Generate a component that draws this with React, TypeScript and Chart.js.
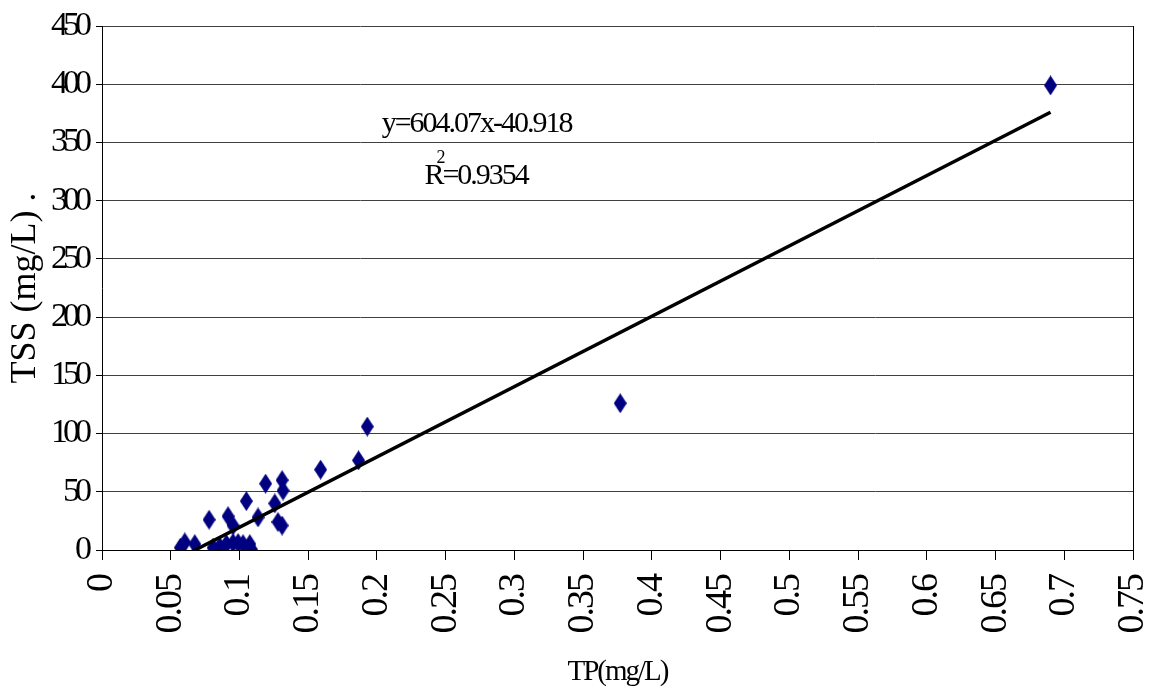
import React, { useEffect, useRef } from 'react';
import { Chart, registerables } from 'chart.js';

Chart.register(...registerables);

// ---- data ----
const tpValues = [0.057, 0.0602, 0.0675, 0.0779, 0.0808, 0.0857, 0.0905, 0.0917, 0.0953, 0.0953, 0.099, 0.1026, 0.105, 0.1075, 0.1087, 0.1135, 0.119, 0.1257, 0.128, 0.131, 0.131, 0.1317, 0.159, 0.1866, 0.193, 0.377, 0.69];
const tssValues = [2, 6.5, 5, 26, 2, 3, 5, 29, 21, 6, 6, 5, 42, 5, 0.5, 28, 57, 40, 24, 21, 60, 51, 69, 77, 106, 126, 399];

const trendSlope = 604.07;
const trendIntercept = -40.918;
const equationText = 'y=604.07x-40.918';
const r2Value = '0.9354';

const xMin = 0;
const xMax = 0.75;
const xStep = 0.05;
const yMin = 0;
const yMax = 450;
const yStep = 50;

const xTitle = 'TP(mg/L)';
const yTitle = 'TSS (mg/L) .';

// anchor of the equation text, in data units
const eqX = 0.2725;
const eqLine1Y = 359;
const eqLine2Y = 314.4;

const FONT = "'Liberation Serif', 'Times New Roman', serif";

function makeDiamond(): HTMLCanvasElement {
  const c = document.createElement('canvas');
  const w = 13;
  const h = 20;
  c.width = w;
  c.height = h;
  const g = c.getContext('2d')!;
  g.fillStyle = '#000080';
  g.beginPath();
  g.moveTo(w / 2, 0);
  g.lineTo(w, h / 2);
  g.lineTo(w / 2, h);
  g.lineTo(0, h / 2);
  g.closePath();
  g.fill();
  return c;
}

function patchSpacing(scale: any, method: string, spacing: string) {
  const key = '__patched_' + method;
  if (scale[key]) return;
  const orig = scale[method];
  scale[method] = function (...args: any[]) {
    const ctx = this.ctx;
    ctx.save();
    ctx.letterSpacing = spacing;
    orig.apply(this, args);
    ctx.restore();
  };
  scale[key] = true;
}

const spacingPlugin = {
  id: 'spacingPlugin',
  afterLayout(chart: any) {
    patchSpacing(chart.scales.y, 'drawLabels', '-5px');
    patchSpacing(chart.scales.x, 'drawLabels', '-2px');
    patchSpacing(chart.scales.x, 'drawTitle', '-2px');
  },
};

const equationPlugin = {
  id: 'equationPlugin',
  afterDatasetsDraw(chart: any) {
    const { ctx, scales } = chart;
    const x = scales.x;
    const y = scales.y;
    const cx = x.getPixelForValue(eqX);
    ctx.save();
    ctx.fillStyle = '#000';
    ctx.textBaseline = 'alphabetic';
    ctx.letterSpacing = '-2px';
    ctx.font = `30px ${FONT}`;
    ctx.textAlign = 'center';
    ctx.fillText(equationText, cx, y.getPixelForValue(eqLine1Y));

    const by = y.getPixelForValue(eqLine2Y);
    ctx.textAlign = 'left';
    const rest = '=' + r2Value;
    const wR = ctx.measureText('R').width;
    const wRest = ctx.measureText(rest).width;
    ctx.font = `18px ${FONT}`;
    const w2 = ctx.measureText('2').width;
    const total = wR - 6 + w2 + wRest;
    let sx = cx - total / 2;
    ctx.font = `30px ${FONT}`;
    ctx.fillText('R', sx, by);
    sx += wR - 6;
    ctx.font = `18px ${FONT}`;
    ctx.fillText('2', sx, by - 21);
    sx += w2 - 1;
    ctx.font = `30px ${FONT}`;
    ctx.fillText(rest, sx, by);
    ctx.restore();
  },
};

function formatTick(v: number): string {
  return String(Number(v.toFixed(2)));
}

export default function App() {
  const ref = useRef<HTMLCanvasElement | null>(null);

  useEffect(() => {
    if (!ref.current) return;
    const scatterData = tpValues.map((v, i) => ({ x: v, y: tssValues[i] }));
    const tMin = Math.min(...tpValues);
    const tMax = Math.max(...tpValues);
    const trendData = [tMin, tMax].map((v) => ({ x: v, y: trendSlope * v + trendIntercept }));
    const nXTicks = Math.round((xMax - xMin) / xStep);

    const chart = new Chart(ref.current, {
      type: 'scatter',
      data: {
        datasets: [
          {
            type: 'line',
            label: 'trend',
            data: trendData,
            borderColor: '#000',
            borderWidth: 3.5,
            pointRadius: 0,
            showLine: true,
            fill: false,
          },
          {
            label: 'TSS',
            data: scatterData,
            pointStyle: makeDiamond(),
            backgroundColor: '#000080',
            borderColor: '#000080',
          },
        ],
      },
      options: {
        animation: false,
        responsive: true,
        maintainAspectRatio: false,
        layout: { padding: { top: 24, right: 20, left: 0, bottom: 0 } },
        plugins: {
          legend: { display: false },
          tooltip: { enabled: false },
        },
        scales: {
          x: {
            type: 'linear',
            min: xMin,
            max: xMax,
            afterFit: (s: any) => {
              s.height = 143;
              s.paddingLeft = 0;
              s.paddingRight = 0;
            },
            ticks: {
              stepSize: xStep,
              autoSkip: false,
              minRotation: 90,
              maxRotation: 90,
              padding: 15,
              color: '#000',
              font: { family: FONT, size: 38, lineHeight: 1 },
              callback: (v: any) => formatTick(Number(v)),
            },
            grid: {
              drawOnChartArea: true,
              color: (c: any) => (c.index === nXTicks ? '#000' : 'rgba(0,0,0,0)'),
              tickColor: '#000',
              tickLength: 10,
              lineWidth: 1,
            },
            border: { display: true, color: '#000', width: 1 },
            title: {
              display: true,
              text: xTitle,
              color: '#000',
              font: { family: FONT, size: 29, lineHeight: 1.2 },
              padding: { top: 0, bottom: 3 },
            },
          },
          y: {
            type: 'linear',
            min: yMin,
            max: yMax,
            afterFit: (s: any) => {
              s.width = 102;
            },
            ticks: {
              stepSize: yStep,
              padding: 9,
              color: '#000',
              font: { family: FONT, size: 34, lineHeight: 1 },
              callback: (v: any) => formatTick(Number(v)),
            },
            grid: {
              color: '#404040',
              tickColor: '#000',
              tickLength: 6,
              lineWidth: 1,
            },
            border: { display: true, color: '#000', width: 1 },
            title: {
              display: true,
              text: yTitle,
              color: '#000',
              font: { family: FONT, size: 36, lineHeight: 1.2 },
              padding: { top: 4, bottom: 0 },
            },
          },
        },
      },
      plugins: [spacingPlugin, equationPlugin],
    } as any);

    return () => {
      chart.destroy();
    };
  }, []);

  return (
    <div style={{ position: 'absolute', left: 0, top: 0, width: 1153, height: 693, background: '#fff' }}>
      <canvas ref={ref} />
    </div>
  );
}
